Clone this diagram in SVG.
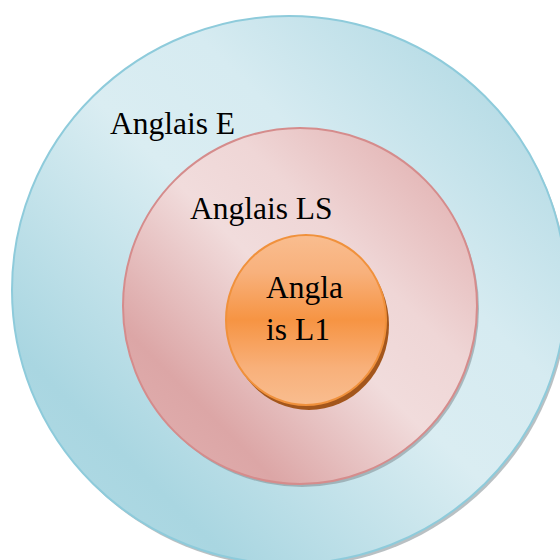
<svg xmlns="http://www.w3.org/2000/svg" width="560" height="560" viewBox="0 0 560 560">
  <defs>
    <!-- diagonal sheen: darker at bottom-left and top-right, light through the middle -->
    <linearGradient id="blueFill" x1="0" y1="1" x2="1" y2="0">
      <stop offset="0" stop-color="#b4dce6"/>
      <stop offset="0.2" stop-color="#a9d6e1"/>
      <stop offset="0.5" stop-color="#daedf2"/>
      <stop offset="0.65" stop-color="#d6ebf1"/>
      <stop offset="1" stop-color="#a5d3df"/>
    </linearGradient>
    <linearGradient id="pinkFill" x1="0" y1="1" x2="1" y2="0">
      <stop offset="0" stop-color="#e2b2b2"/>
      <stop offset="0.22" stop-color="#dca6a6"/>
      <stop offset="0.5" stop-color="#f1dcdc"/>
      <stop offset="0.65" stop-color="#efd6d6"/>
      <stop offset="1" stop-color="#dea6a6"/>
    </linearGradient>
    <linearGradient id="orangeFill" x1="0" y1="0" x2="0" y2="1">
      <stop offset="0" stop-color="#f9bd8f"/>
      <stop offset="0.22" stop-color="#f8b17c"/>
      <stop offset="0.5" stop-color="#f69443"/>
      <stop offset="0.78" stop-color="#f8b07a"/>
      <stop offset="1" stop-color="#f9bd8f"/>
    </linearGradient>
  </defs>
  <style>
    .label { font-family: "Liberation Serif", "Times New Roman", serif; font-size: 31.5px; fill: #000; }
    .shadow { fill: #7f8c91; opacity: 0.55; }
  </style>

  <g id="anglais-e">
    <ellipse class="shadow" cx="291" cy="293" rx="277" ry="274"/>
    <ellipse cx="289" cy="290" rx="277" ry="274" fill="url(#blueFill)" stroke="#8ecbdb" stroke-width="2"/>
    <text class="label" x="110" y="134">Anglais E</text>
  </g>

  <g id="anglais-ls">
    <ellipse class="shadow" cx="302" cy="309" rx="177" ry="178"/>
    <ellipse cx="300" cy="306" rx="177" ry="178" fill="url(#pinkFill)" stroke="#d58c8c" stroke-width="2"/>
    <text class="label" x="190" y="219">Anglais LS</text>
  </g>

  <g id="anglais-l1">
    <ellipse cx="309" cy="325" rx="80" ry="85" fill="#a3561c"/>
    <ellipse cx="306" cy="320" rx="80" ry="85" fill="url(#orangeFill)" stroke="#f0913c" stroke-width="2"/>
    <text class="label" x="266" y="298">Angla</text>
    <text class="label" x="266" y="340">is L1</text>
  </g>
</svg>
